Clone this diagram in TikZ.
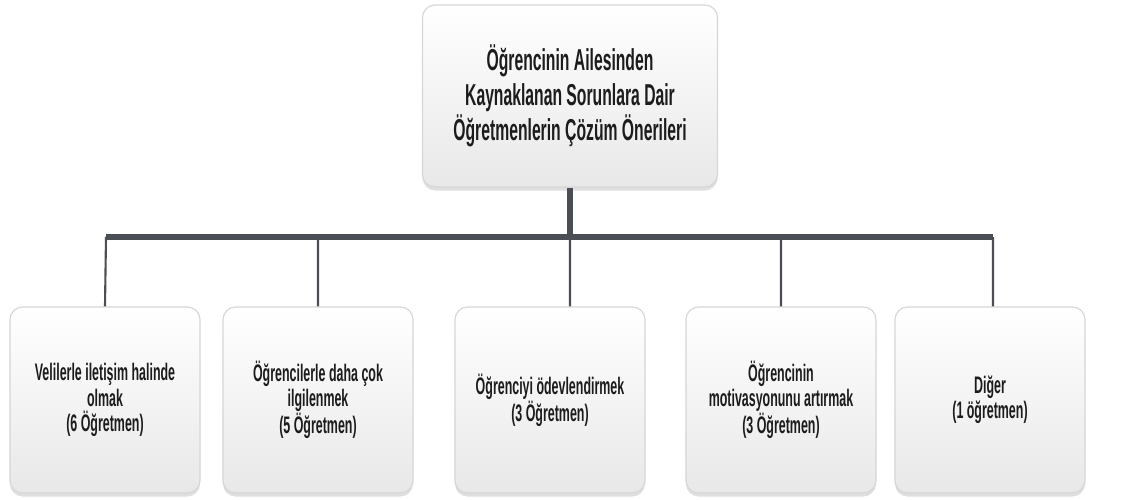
\documentclass[tikz,border=0pt]{standalone}
\usepackage{fontspec}
\setmainfont[FakeStretch=0.52]{Liberation Sans}
\usetikzlibrary{positioning, shadows}
\definecolor{bargray}{HTML}{4B4F55}
\definecolor{edgegray}{HTML}{D6D6D6}
\definecolor{txtgray}{HTML}{1C1C1C}

\begin{document}
\begin{tikzpicture}[
    x=0.025cm, y=-0.025cm,
    box/.style={draw=edgegray, rounded corners=9pt, thick, text centered,
    top color=white, bottom color=black!9, text=txtgray,
    drop shadow={opacity=0.25, shadow xshift=0pt, shadow yshift=-2.5pt},
    minimum width=4.75cm, minimum height=4.65cm,
    font=\fontsize{17}{18}\selectfont\bfseries, align=center},
    root/.style={box, minimum width=7.375cm, minimum height=4.55cm,
    font=\fontsize{21.5}{25}\selectfont\bfseries},
    bus/.style={draw=bargray, line width=4.5pt},
    drop/.style={draw=bargray, line width=1.5pt}
    ]
    \useasboundingbox (0,0) rectangle (1122,499);

    \node[root] (top) at (570,96)
      {Öğrencinin Ailesinden\\Kaynaklanan Sorunlara Dair\\Öğretmenlerin Çözüm Önerileri};

    \node[box]  (n1)  at (105,400)  {Velilerle iletişim halinde\\olmak\\(6 Öğretmen)};
    \node[box]  (n2)  at (318,400)  {Öğrencilerle daha çok\\ilgilenmek\\(5 Öğretmen)};
    \node[box]  (n3)  at (550,400)  {Öğrenciyi ödevlendirmek\\(3 Öğretmen)};
    \node[box]  (n4)  at (781,400)  {Öğrencinin\\motivasyonunu artırmak\\(3 Öğretmen)};
    \node[box]  (n5)  at (990,400)  {Diğer\\(1 öğretmen)};

    \coordinate (busL) at (106,237);
    \coordinate (busR) at (993,237);
    \coordinate (busM) at (top.south |- busL);

    \path[drop]
      (busL) -- (n1.north)
      (n2.north |- busL) -- (n2.north)
      (busM) -- (busM |- n3.north)
      (n4.north |- busL) -- (n4.north)
      (busR) -- (busR |- n5.north)
    ;
    \path[bus]
      (top.south) -- (busM)
      (busL) -- (busR)
    ;
\end{tikzpicture}
\end{document}
